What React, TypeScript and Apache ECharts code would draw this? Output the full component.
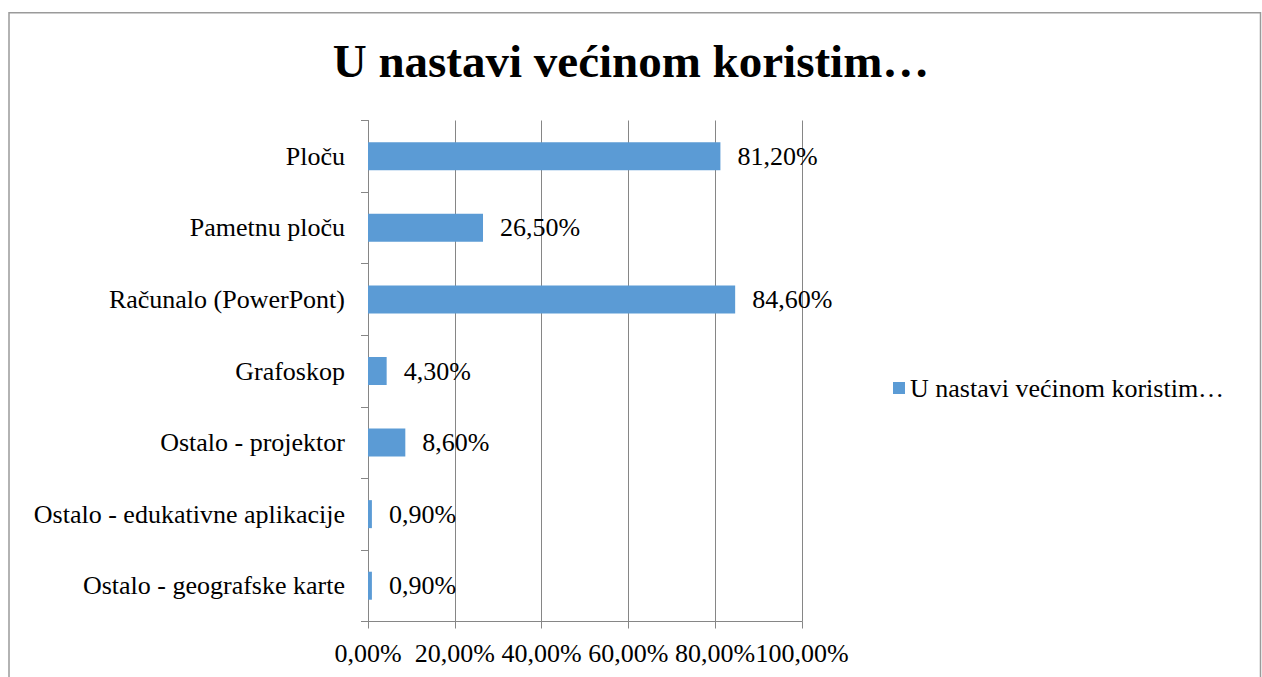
import React, { useEffect, useRef, useState } from "react";
import * as echarts from "echarts";

const categories = [
  "Ploču",
  "Pametnu ploču",
  "Računalo (PowerPont)",
  "Grafoskop",
  "Ostalo - projektor",
  "Ostalo - edukativne aplikacije",
  "Ostalo - geografske karte",
];
const values = [81.2, 26.5, 84.6, 4.3, 8.6, 0.9, 0.9];
const seriesName = "U nastavi većinom koristim…";
const titleText = "U nastavi većinom koristim…";
const axisMin = 0;
const axisMax = 100;
const axisInterval = 20;

const FONT = "Liberation Serif";
const GRAY = "#868686";
const fmt = (v: number) => v.toFixed(2).replace(".", ",") + "%";

const txt = (extra: any = {}) => ({
  fontFamily: FONT,
  fontSize: 26,
  color: "#000",
  ...extra,
});

export default function App() {
  const ref = useRef<HTMLDivElement>(null);
  const [dump, setDump] = useState("");
  useEffect(() => {
    if (!ref.current) return;
    const chart = echarts.init(ref.current, undefined, { renderer: "svg" });
    chart.setOption({
      animation: false,
      backgroundColor: "#ffffff",
      title: {
        text: titleText,
        left: "center",
        top: 37,
        padding: 0,
        textStyle: {
          fontFamily: FONT,
          fontSize: 47,
          fontWeight: "bold",
          color: "#000",
        },
      },
      graphic: [
        {
          type: "rect",
          shape: { x: 9, y: 12.7, width: 1251.5, height: 720 },
          style: { fill: "none", stroke: "#9a9a9a", lineWidth: 1.5 },
          silent: true,
        },
      ],
      legend: {
        orient: "vertical",
        left: 893,
        top: 375,
        padding: 0,
        itemWidth: 12,
        itemHeight: 12,
        itemGap: 5,
        icon: "rect",
        textStyle: txt(),
        data: [seriesName],
      },
      grid: { left: 368, right: 460, top: 120.5, bottom: 55.5, containLabel: false },
      xAxis: {
        type: "value",
        min: axisMin,
        max: axisMax,
        interval: axisInterval,
        axisLine: { show: true, lineStyle: { color: GRAY, width: 1 } },
        axisTick: { show: true, length: 7, lineStyle: { color: GRAY } },
        splitLine: { show: true, lineStyle: { color: GRAY, width: 1 } },
        axisLabel: txt({
          margin: 19,
          formatter: (v: number) => fmt(v),
        }),
      },
      yAxis: {
        type: "category",
        inverse: true,
        data: categories,
        axisLine: { show: true, lineStyle: { color: GRAY, width: 1 } },
        axisTick: { show: true, length: 7, lineStyle: { color: GRAY } },
        splitLine: { show: false },
        axisLabel: txt({ margin: 23 }),
      },
      series: [
        {
          name: seriesName,
          type: "bar",
          data: values,
          barWidth: 28,
          itemStyle: { color: "#5B9BD5" },
          label: {
            show: true,
            position: "right",
            distance: 17,
            ...txt(),
            formatter: (p: any) => fmt(p.value),
          },
        },
      ],
    });
    setDump(".");
    return () => chart.dispose();
  }, []);
  return (
    <div>
      <div
        ref={ref}
        style={{ position: "absolute", left: 0, top: 0, width: 1262, height: 677 }}
      />
      <pre
        style={{
          position: "absolute",
          left: 1240,
          top: 640,
          fontSize: 9,
          color: "#ffffff",
          fontFamily: "DejaVu Sans Mono",
          margin: 0,
        }}
      >
        {dump}
      </pre>
    </div>
  );
}
